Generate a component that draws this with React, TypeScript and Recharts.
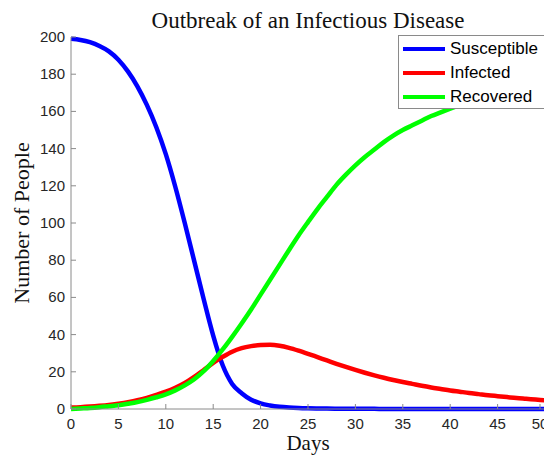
import React from "react";
import { LineChart, Line, XAxis, YAxis, Legend } from "recharts";

// days 0..50, values
const days = [
  0, 1, 2, 3, 4, 5, 6, 7, 8, 9, 10, 11, 12, 13, 14, 15, 16, 17, 18, 19, 20, 21, 22, 23, 24, 25,
  26, 27, 28, 29, 30, 31, 32, 33, 34, 35, 36, 37, 38, 39, 40, 41, 42, 43, 44, 45, 46, 47, 48, 49, 50,
];
const susceptible = [
  199, 198.4, 197.2, 195.2, 192.3, 187.8, 181.5, 173.5, 163.5, 151.5, 137, 119.5, 100, 79.5, 59,
  39.5, 23.5, 13.5, 8.5, 5, 3, 1.9, 1.2, 0.8, 0.55, 0.4, 0.3, 0.22, 0.17, 0.13, 0.1, 0.08, 0.07, 0.06,
  0.05, 0.05, 0.04, 0.04, 0.03, 0.03, 0.03, 0.02, 0.02, 0.02, 0.02, 0.02, 0.01, 0.01, 0.01, 0.01, 0.01,
];
const infected = [
  0.8, 1, 1.3, 1.7, 2.2, 2.9, 3.7, 4.7, 6, 7.6, 9.3, 11.4, 14, 17.3, 21, 24.8, 28, 30.8, 32.7, 33.8,
  34.4, 34.5, 34, 32.9, 31.4, 29.7, 27.9, 26.1, 24.3, 22.6, 21, 19.5, 18.1, 16.8, 15.6, 14.5, 13.5,
  12.5, 11.6, 10.8, 10, 9.3, 8.6, 8, 7.4, 6.9, 6.4, 5.9, 5.5, 5.1, 4.7,
];
const recovered = [
  0, 0.3, 0.6, 1, 1.5, 2, 2.8, 3.7, 4.9, 6.3, 7.9, 10, 12.7, 16, 20.3, 25.8, 32, 38.8, 46, 53.5,
  61.5, 69.5, 77.5, 85.5, 93.3, 100.5, 107.5, 114, 120.5, 126, 131, 135.5, 139.5, 143.5, 147, 150,
  152.5, 155, 157.5, 159.5, 161.5, 163.4, 165.2, 166.8, 168.3, 169.7, 171, 172.2, 173.3, 174.3, 175.2,
];
const seriesNames = ["Susceptible", "Infected", "Recovered"];
const xTicks = [0, 5, 10, 15, 20, 25, 30, 35, 40, 45, 50];
const yTicks = [0, 20, 40, 60, 80, 100, 120, 140, 160, 180, 200];

const data = days.map((d, i) => ({
  day: d,
  Susceptible: susceptible[i],
  Infected: infected[i],
  Recovered: recovered[i],
}));

const AXIS = "#8a8a8a";
const TICK_TEXT = "#262626";
const sans = "'Liberation Sans', Arial, sans-serif";
const serif = "'Liberation Serif', 'Times New Roman', serif";

function BottomTick({ x, y, payload }: any) {
  return (
    <g>
      <line x1={x} y1={y} x2={x} y2={y - 5} stroke={AXIS} />
      <text x={x} y={y + 20} textAnchor="middle" fontSize={15} fontFamily={sans} fill={TICK_TEXT}>
        {payload.value}
      </text>
    </g>
  );
}

function TopTick({ x, y }: any) {
  return <line x1={x} y1={y} x2={x} y2={y + 5} stroke={AXIS} />;
}

function LeftTick({ x, y, payload }: any) {
  return (
    <g>
      <line x1={x} y1={y} x2={x + 5} y2={y} stroke={AXIS} />
      <text x={x - 6} y={y + 5} textAnchor="end" fontSize={15} fontFamily={sans} fill={TICK_TEXT}>
        {payload.value}
      </text>
    </g>
  );
}

function RightTick({ x, y }: any) {
  return <line x1={x} y1={y} x2={x - 5} y2={y} stroke={AXIS} />;
}

function YLabel({ viewBox }: any) {
  const cx = viewBox.x + 29;
  const cy = viewBox.y + viewBox.height / 2;
  return (
    <text x={cx} y={cy} transform={`rotate(-90 ${cx} ${cy})`} textAnchor="middle" fontSize={22} fontFamily={serif} fill="#111">
      Number of People
    </text>
  );
}

function XLabel({ viewBox }: any) {
  const cx = viewBox.x + viewBox.width / 2;
  return (
    <text x={cx} y={viewBox.y + 41} textAnchor="middle" fontSize={21} fontFamily={serif} fill="#111">
      Days
    </text>
  );
}

function LegendBox({ payload }: any) {
  const items = seriesNames
    .map((n) => (payload || []).find((p: any) => p.value === n))
    .filter(Boolean);
  return (
    <div
      style={{
        position: "relative",
        width: 150,
        height: 74,
        border: `1px solid ${AXIS}`,
        background: "#fff",
        boxSizing: "border-box",
      }}
    >
      {items.map((p: any, i: number) => (
        <div key={p.value} style={{ position: "absolute", left: 0, top: 1 + 24 * i, height: 24, width: 148 }}>
          <div style={{ position: "absolute", left: 4, top: 10, width: 42, height: 4, background: p.color }} />
          <span
            style={{
              position: "absolute",
              left: 51,
              top: 0,
              lineHeight: "24px",
              fontSize: 17,
              fontFamily: sans,
              color: "#000",
              whiteSpace: "nowrap",
            }}
          >
            {p.value}
          </span>
        </div>
      ))}
    </div>
  );
}

export default function App() {
  return (
    <div style={{ position: "absolute", left: 0, top: 0, width: 544, height: 456, overflow: "hidden", background: "#fff" }}>
      <LineChart width={548} height={456} data={data} margin={{ top: 37, right: 3, bottom: 0, left: 0 }}>
        <XAxis
          dataKey="day"
          type="number"
          domain={[0, 50]}
          ticks={xTicks}
          height={47}
          tickSize={0}
          tickMargin={0}
          tickLine={false}
          axisLine={{ stroke: AXIS }}
          tick={<BottomTick />}
          label={<XLabel />}
        />
        <XAxis
          xAxisId="top"
          orientation="top"
          dataKey="day"
          type="number"
          domain={[0, 50]}
          ticks={xTicks}
          height={0}
          tickSize={0}
          tickMargin={0}
          tickLine={false}
          axisLine={{ stroke: AXIS }}
          tick={<TopTick />}
        />
        <YAxis
          type="number"
          domain={[0, 200]}
          ticks={yTicks}
          width={71}
          tickSize={0}
          tickMargin={0}
          tickLine={false}
          axisLine={{ stroke: AXIS }}
          tick={<LeftTick />}
          label={<YLabel />}
        />
        <YAxis
          yAxisId="right"
          orientation="right"
          type="number"
          domain={[0, 200]}
          ticks={yTicks}
          width={0}
          tickSize={0}
          tickMargin={0}
          tickLine={false}
          axisLine={{ stroke: AXIS }}
          tick={<RightTick />}
        />
        <Line type="monotone" dataKey="Susceptible" stroke="#0000ff" strokeWidth={4.5} dot={false} isAnimationActive={false} />
        <Line type="monotone" dataKey="Infected" stroke="#ff0000" strokeWidth={4.5} dot={false} isAnimationActive={false} />
        <Line type="monotone" dataKey="Recovered" stroke="#00ff00" strokeWidth={4.5} dot={false} isAnimationActive={false} />
        <Legend
          layout="horizontal"
          verticalAlign="middle"
          align="center"
          wrapperStyle={{ left: 398, top: 35, width: 150, height: 74 }}
          content={<LegendBox />}
        />
      </LineChart>
      <div
        style={{
          position: "absolute",
          left: 0,
          top: 9,
          width: 616,
          textAlign: "center",
          fontFamily: serif,
          fontSize: 23,
          lineHeight: "23px",
          color: "#111",
          whiteSpace: "nowrap",
        }}
      >
        Outbreak of an Infectious Disease
      </div>
    </div>
  );
}
